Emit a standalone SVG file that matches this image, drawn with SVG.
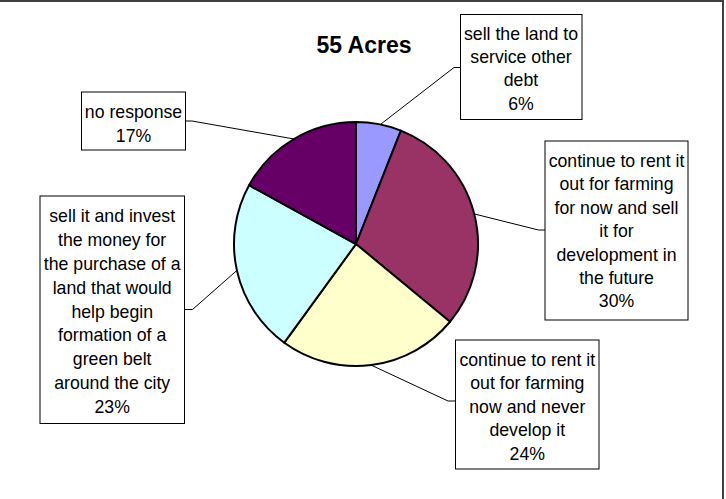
<svg xmlns="http://www.w3.org/2000/svg" width="726" height="499" viewBox="0 0 726 499">
<style>
.frame{fill:none;stroke:#404040;stroke-width:2}
.slice{stroke:#000;stroke-width:2;stroke-linejoin:round}
.box{fill:#fff;stroke:#000;stroke-width:1}
.lbl{font-family:"Liberation Sans",Arial,sans-serif;font-size:17.7px;fill:#000;text-anchor:middle}
.title{font-family:"Liberation Sans",Arial,sans-serif;font-size:23px;font-weight:bold;fill:#000;text-anchor:middle}
.leader{fill:none;stroke:#000;stroke-width:1}
</style>
<rect width="726" height="499" fill="#fff"/>
<path class="frame" d="M0,1 H723 V499"/>
<text class="title" x="364" y="53">55 Acres</text>
<g id="pie">
<path class="slice" fill="#9999FF" d="M356,244 L356,122 A122,122 0 0,1 400.91,130.56 Z"/>
<path class="slice" fill="#993366" d="M356,244 L400.91,130.56 A122,122 0 0,1 450.0,321.76 Z"/>
<path class="slice" fill="#FFFFCC" d="M356,244 L450.0,321.76 A122,122 0 0,1 284.29,342.70 Z"/>
<path class="slice" fill="#CCFFFF" d="M356,244 L284.29,342.70 A122,122 0 0,1 249.09,185.22 Z"/>
<path class="slice" fill="#660066" d="M356,244 L249.09,185.22 A122,122 0 0,1 356,122 Z"/>
</g>
<g id="connectors">
<polyline class="leader" points="460,67.5 454,67.5 381,124"/>
<polyline class="leader" points="545,230 538.5,230 474.5,214"/>
<polyline class="leader" points="455.5,401 448,401 372,365.5"/>
<polyline class="leader" points="184.5,309.5 192.5,309.5 236.5,270.8"/>
<polyline class="leader" points="185.5,121 192,121 294,139"/>
</g>
<g id="label-sell-debt">
<rect class="box" x="460.5" y="14.5" width="121.5" height="105"/>
<text class="lbl" x="521" y="40">sell the land to</text>
<text class="lbl" x="521" y="63.2">service other</text>
<text class="lbl" x="521" y="86.4">debt</text>
<text class="lbl" x="521" y="109.6">6%</text>
</g>
<g id="label-no-response">
<rect class="box" x="81.5" y="92" width="104" height="58"/>
<text class="lbl" x="133.5" y="118">no response</text>
<text class="lbl" x="133.5" y="141.5">17%</text>
</g>
<g id="label-rent-sell">
<rect class="box" x="545" y="141" width="143" height="179"/>
<text class="lbl" x="616.5" y="167">continue to rent it</text>
<text class="lbl" x="616.5" y="190.4">out for farming</text>
<text class="lbl" x="616.5" y="213.8">for now and sell</text>
<text class="lbl" x="616.5" y="237.2">it for</text>
<text class="lbl" x="616.5" y="260.6">development in</text>
<text class="lbl" x="616.5" y="284">the future</text>
<text class="lbl" x="616.5" y="307.4">30%</text>
</g>
<g id="label-rent-never">
<rect class="box" x="455.5" y="340" width="143.5" height="129"/>
<text class="lbl" x="527.3" y="365.9">continue to rent it</text>
<text class="lbl" x="527.3" y="389.3">out for farming</text>
<text class="lbl" x="527.3" y="412.7">now and never</text>
<text class="lbl" x="527.3" y="436.1">develop it</text>
<text class="lbl" x="527.3" y="459.5">24%</text>
</g>
<g id="label-green-belt">
<rect class="box" x="40" y="196" width="144.5" height="227.5"/>
<text class="lbl" x="112.2" y="221.7">sell it and invest</text>
<text class="lbl" x="112.2" y="245.6">the money for</text>
<text class="lbl" x="112.2" y="269.6">the purchase of a</text>
<text class="lbl" x="112.2" y="293.5">land that would</text>
<text class="lbl" x="112.2" y="317.5">help begin</text>
<text class="lbl" x="112.2" y="341.4">formation of a</text>
<text class="lbl" x="112.2" y="365.4">green belt</text>
<text class="lbl" x="112.2" y="389.3">around the city</text>
<text class="lbl" x="112.2" y="413.3">23%</text>
</g>
</svg>
